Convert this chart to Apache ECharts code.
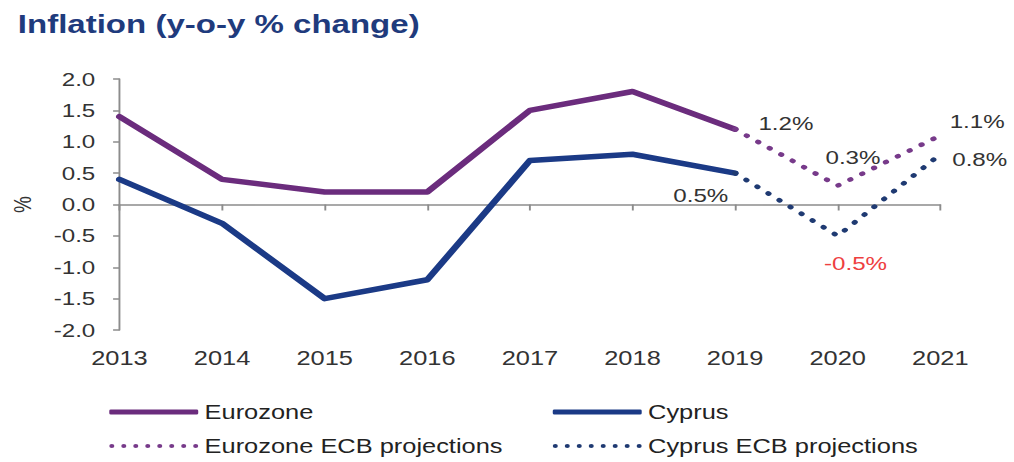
<!DOCTYPE html>
<html>
<head>
<meta charset="utf-8">
<script src="https://cdn.jsdelivr.net/npm/echarts@6/dist/echarts.min.js"></script>
<style>
html,body{margin:0;padding:0;background:#fff;}
#wrap{width:1014px;height:462px;overflow:hidden;position:relative;background:#fff;}
#chart{width:798px;height:462px;transform:scaleX(1.2707);transform-origin:0 0;}
</style>
</head>
<body>
<div id="wrap"><div id="chart"></div></div>
<script>
// ---- data ----
const years = ['2013','2014','2015','2016','2017','2018','2019','2020','2021'];
const eurozone = [1.4, 0.4, 0.2, 0.2, 1.5, 1.8, 1.2, null, null];
const cyprus = [0.4, -0.3, -1.5, -1.2, 0.7, 0.8, 0.5, null, null];
const eurozoneProj = [null, null, null, null, null, null, 1.2, 0.3, 1.1];
const cyprusProj = [null, null, null, null, null, null, 0.5, -0.5, 0.8];
const seriesNames = ['Eurozone', 'Cyprus', 'Eurozone ECB projections', 'Cyprus ECB projections'];
const titleText = 'Inflation (y-o-y % change)';
const yName = '%';

// ---- styling ----
const F = '"Liberation Sans", Arial, sans-serif';
const PURPLE = '#6B2C7D';
const NAVY = '#1B3A86';
const PURPLE_DOT = '#773A8A';
const NAVY_DOT = '#1F3A72';
const AXIS = '#8C8C8C';
const TEXT = '#333333';

const labelBase = {show: true, position: 'inside', fontSize: 19, color: TEXT, fontFamily: F,
  formatter: p => p.value.toFixed(1) + '%'};
const ezLabelOpts = {6: {offset: [40, -6]}, 7: {offset: [12, -28]}, 8: {offset: [29, -14]}};
const cyLabelOpts = {6: {offset: [-27, 22]}, 7: {offset: [14, 28], color: '#EE4040'}, 8: {offset: [31, 5]}};
function withLabels(vals, opts) {
  return vals.map((v, i) => {
    if (v == null) return null;
    if (opts[i]) return {value: v, label: Object.assign({}, labelBase, opts[i])};
    return v;
  });
}

// legend icons: solid bar and row of dots
function dotsPath(n, w, r) {
  const step = (w - 2 * r) / (n - 1);
  let d = '';
  for (let i = 0; i < n; i++) {
    const cx = r + i * step;
    d += 'M' + (cx - r) + ',' + r + 'a' + r + ',' + r + ' 0 1,0 ' + (2 * r) + ',0a' + r + ',' + r + ' 0 1,0 ' + (-2 * r) + ',0Z';
  }
  return 'path://' + d;
}
const DOT_ICON = dotsPath(8, 70, 2);

const chart = echarts.init(document.getElementById('chart'), null, {renderer: 'svg'});
const legendCommon = {
  orient: 'horizontal', itemWidth: 70, itemGap: 0, padding: 0,
  textStyle: {fontSize: 20, color: '#222', fontFamily: F},
  selectedMode: false
};
const solidLine = c => ({color: c, width: 5.5, cap: 'round', join: 'round'});
const dotLine = c => ({color: c, width: 4.5, type: [0.5, 10.5], cap: 'round'});

chart.setOption({
  animation: false,
  backgroundColor: '#fff',
  title: {
    text: titleText, left: 9, top: 6,
    textStyle: {fontSize: 26, fontWeight: 'bold', color: '#1F3B7D', fontFamily: F}
  },
  legend: [
    Object.assign({}, legendCommon, {data: [{name: seriesNames[0], icon: 'roundRect'}], itemHeight: 5, left: 86, top: 402}),
    Object.assign({}, legendCommon, {data: [{name: seriesNames[1], icon: 'roundRect'}], itemHeight: 5, left: 435, top: 402}),
    Object.assign({}, legendCommon, {data: [{name: seriesNames[2], icon: DOT_ICON}], itemHeight: 4, left: 86, top: 436}),
    Object.assign({}, legendCommon, {data: [{name: seriesNames[3], icon: DOT_ICON}], itemHeight: 4, left: 435, top: 436})
  ],
  grid: {left: 92, right: 58, top: 79, bottom: 132, containLabel: false},
  xAxis: [
    {
      type: 'category', data: years, boundaryGap: false,
      axisLine: {show: true, onZero: true, lineStyle: {color: AXIS, width: 1.5}},
      axisTick: {show: true, length: 6, lineStyle: {color: AXIS, width: 1.5}},
      axisLabel: {show: false}, splitLine: {show: false}
    },
    {
      type: 'category', data: years, boundaryGap: false, position: 'bottom',
      axisLine: {show: false, onZero: false}, axisTick: {show: false},
      axisLabel: {show: true, margin: 18, fontSize: 20, color: TEXT, fontFamily: F},
      splitLine: {show: false}
    }
  ],
  yAxis: {
    type: 'value', min: -2, max: 2, interval: 0.5,
    name: yName, nameLocation: 'middle', nameRotate: 90, nameGap: 67,
    nameTextStyle: {fontSize: 19, color: TEXT, fontFamily: F},
    axisLine: {show: true, onZero: false, lineStyle: {color: AXIS, width: 1.5}},
    axisTick: {show: true, length: 5, lineStyle: {color: AXIS, width: 1.5}},
    axisLabel: {margin: 19, fontSize: 19, color: TEXT, fontFamily: F, formatter: v => v.toFixed(1)},
    splitLine: {show: false}
  },
  series: [
    {name: seriesNames[0], type: 'line', data: eurozone, xAxisIndex: 0, showSymbol: false, symbol: 'none',
      lineStyle: solidLine(PURPLE), itemStyle: {color: PURPLE}, z: 3},
    {name: seriesNames[1], type: 'line', data: cyprus, xAxisIndex: 0, showSymbol: false, symbol: 'none',
      lineStyle: solidLine(NAVY), itemStyle: {color: NAVY}, z: 3},
    {name: seriesNames[2], type: 'line', data: withLabels(eurozoneProj, ezLabelOpts), xAxisIndex: 0,
      symbol: 'circle', symbolSize: 0.01, showSymbol: true,
      lineStyle: dotLine(PURPLE_DOT), itemStyle: {color: PURPLE_DOT}, z: 3},
    {name: seriesNames[3], type: 'line', data: withLabels(cyprusProj, cyLabelOpts), xAxisIndex: 0,
      symbol: 'circle', symbolSize: 0.01, showSymbol: true,
      lineStyle: dotLine(NAVY_DOT), itemStyle: {color: NAVY_DOT}, z: 3}
  ]
});
</script>
</body>
</html>
